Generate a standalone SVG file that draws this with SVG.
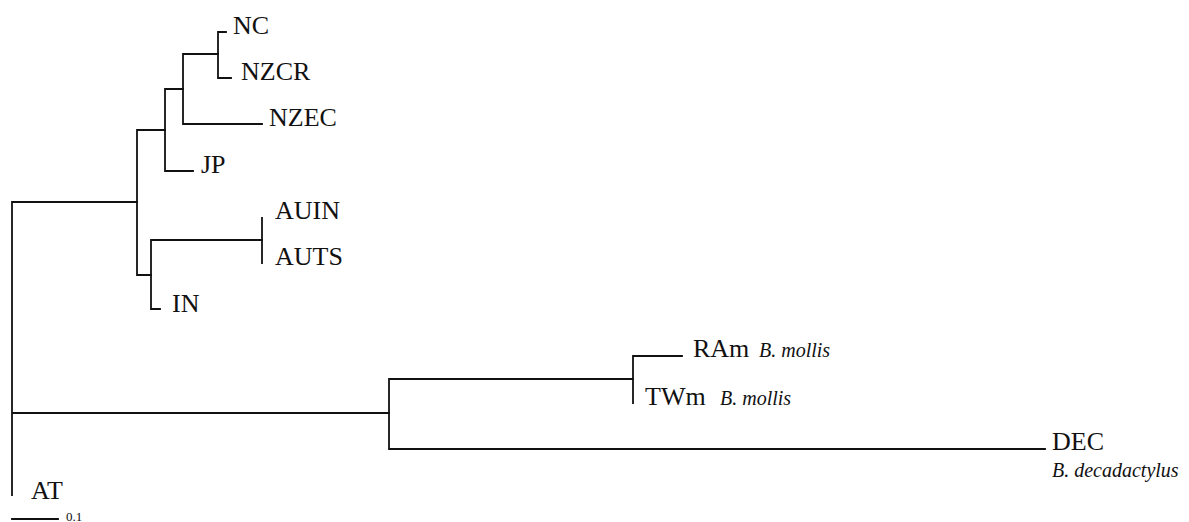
<svg xmlns="http://www.w3.org/2000/svg" width="1189" height="522" viewBox="0 0 1189 522">
<style>
.br{fill:none;stroke:#111;stroke-width:1.8;stroke-linecap:square}
.lb{font-size:26px}
.sp{font-style:italic;font-size:20px}
.sc{font-size:13px}
</style>
<rect width="1189" height="522" fill="#fff"/>
<g id="connectors">
<path class="br" d="M12,202 V495 M12,202 H137 M12,413 H389"/>
<path class="br" d="M137,130 V275 M137,130 H165 M137,275 H151"/>
<path class="br" d="M165,89 V171 M165,89 H183 M165,171 H193"/>
<path class="br" d="M183,54 V124 M183,54 H218 M183,124 H262"/>
<path class="br" d="M218,32 V78 M218,32 H226 M218,78 H231"/>
<path class="br" d="M151,240 V309 M151,240 H262 M151,309 H160"/>
<path class="br" d="M262,218 V263"/>
<path class="br" d="M389,379 V449 M389,379 H633 M389,449 H1045"/>
<path class="br" d="M633,356 V403 M633,356 H682"/>
</g>
<g font-family="Liberation Serif, Times New Roman, Tinos, serif" fill="#111">
<g id="NC"><text class="lb" x="233" y="34">NC</text></g>
<g id="NZCR"><text class="lb" x="241" y="80">NZCR</text></g>
<g id="NZEC"><text class="lb" x="269" y="126">NZEC</text></g>
<g id="JP"><text class="lb" x="201" y="173">JP</text></g>
<g id="AUIN"><text class="lb" x="275" y="219">AUIN</text></g>
<g id="AUTS"><text class="lb" x="275" y="265">AUTS</text></g>
<g id="IN"><text class="lb" x="172" y="312">IN</text></g>
<g id="RAm"><text class="lb" x="693" y="357">RAm</text><text class="sp" x="759" y="357">B. mollis</text></g>
<g id="TWm"><text class="lb" x="645" y="405">TWm</text><text class="sp" x="720" y="405">B. mollis</text></g>
<g id="DEC"><text class="lb" x="1052" y="450">DEC</text><text class="sp" x="1052" y="477">B. decadactylus</text></g>
<g id="AT"><text class="lb" x="31" y="499">AT</text></g>
<g id="scale"><path class="br" d="M12,519 H58"/><text class="sc" x="66" y="521">0.1</text></g>
</g>
</svg>
